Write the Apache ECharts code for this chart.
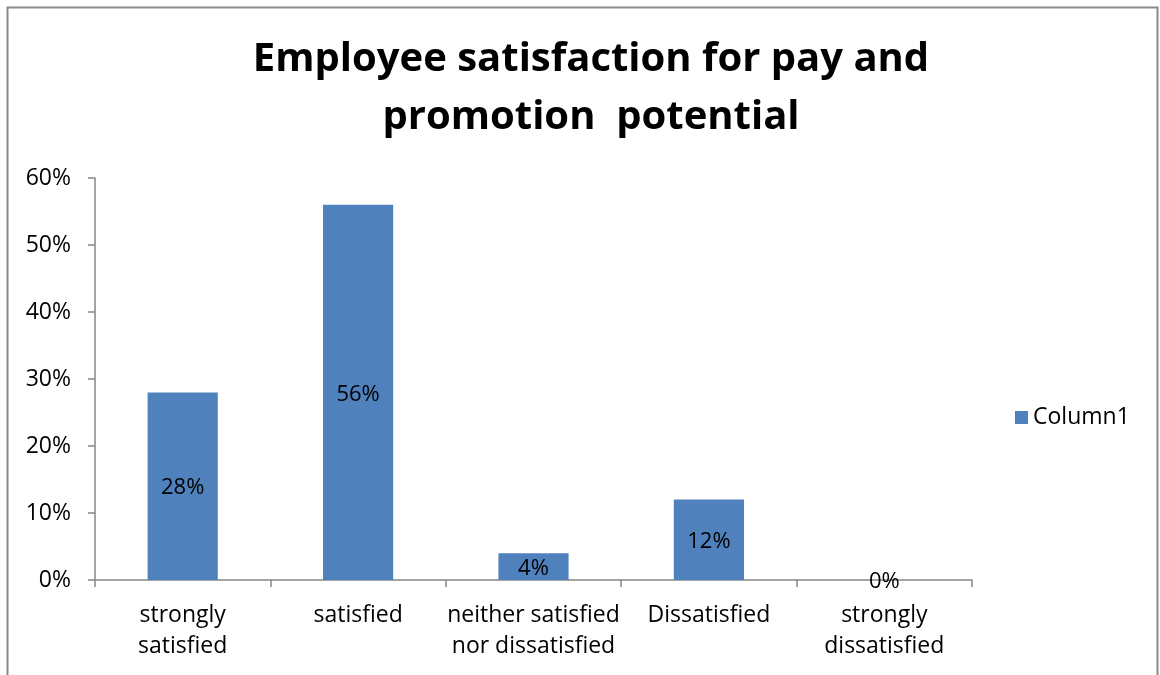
<!DOCTYPE html>
<html>
<head>
<meta charset="utf-8">
<script src="https://cdn.jsdelivr.net/npm/echarts@6/dist/echarts.min.js"></script>
<style>
  html, body { margin: 0; padding: 0; background: #fff; }
  #chart { width: 1160px; height: 675px; }
</style>
</head>
<body>
<div id="chart"></div>
<script>
// Survey responses: share of employees per satisfaction level
const categories = [
  'strongly\nsatisfied',
  'satisfied',
  'neither satisfied\nnor dissatisfied',
  'Dissatisfied',
  'strongly\ndissatisfied'
];
const column1 = [0.28, 0.56, 0.04, 0.12, 0];
const seriesName = 'Column1';
const titleText = 'Employee satisfaction for pay and\npromotion  potential';

const FONT = '"Open Sans", "Noto Sans", sans-serif';
const AXIS_GREY = '#868686';

const chart = echarts.init(document.getElementById('chart'), null, { renderer: 'canvas' });

const pct = v => Math.round(v * 100) + '%';

chart.setOption({
  animation: false,
  backgroundColor: '#fff',
  title: {
    text: titleText,
    left: 586,
    textAlign: 'center',
    top: 26,
    textStyle: {
      fontFamily: FONT,
      fontWeight: 'bold',
      fontSize: 40,
      lineHeight: 58,
      color: '#000'
    }
  },
  graphic: [{
    type: 'rect',
    shape: { x: 7.5, y: 7.5, width: 1150, height: 700 },
    style: { fill: 'none', stroke: '#8a8a8a', lineWidth: 2 },
    silent: true
  }],
  legend: {
    data: [seriesName],
    left: 1010,
    top: 401,
    icon: 'rect',
    itemWidth: 13,
    itemHeight: 13,
    itemGap: 7,
    textStyle: { fontFamily: FONT, fontSize: 23, color: '#000' }
  },
  grid: { left: 95, right: 188, top: 178, bottom: 95, containLabel: false },
  xAxis: {
    type: 'category',
    data: categories,
    boundaryGap: true,
    axisLine: { show: true, lineStyle: { color: AXIS_GREY, width: 1.5 } },
    axisTick: { show: true, length: 7, alignWithLabel: false, lineStyle: { color: AXIS_GREY, width: 1.5 } },
    axisLabel: {
      interval: 0,
      margin: 20,
      fontFamily: FONT,
      fontSize: 23,
      lineHeight: 31,
      color: '#000'
    },
    splitLine: { show: false }
  },
  yAxis: {
    type: 'value',
    min: 0,
    max: 0.6,
    interval: 0.1,
    axisLine: { show: true, lineStyle: { color: AXIS_GREY, width: 1.5 } },
    axisTick: { show: true, length: 7, lineStyle: { color: AXIS_GREY, width: 1.5 } },
    axisLabel: {
      margin: 24,
      formatter: v => pct(v),
      fontFamily: FONT,
      fontSize: 23,
      color: '#000'
    },
    splitLine: { show: false }
  },
  series: [{
    name: seriesName,
    type: 'bar',
    data: column1,
    barWidth: '40%',
    itemStyle: { color: '#4F81BD' },
    label: {
      show: true,
      position: 'inside',
      offset: [0, 2],
      formatter: p => pct(p.value),
      fontFamily: FONT,
      fontSize: 22,
      color: '#000'
    }
  }]
});
</script>
</body>
</html>
